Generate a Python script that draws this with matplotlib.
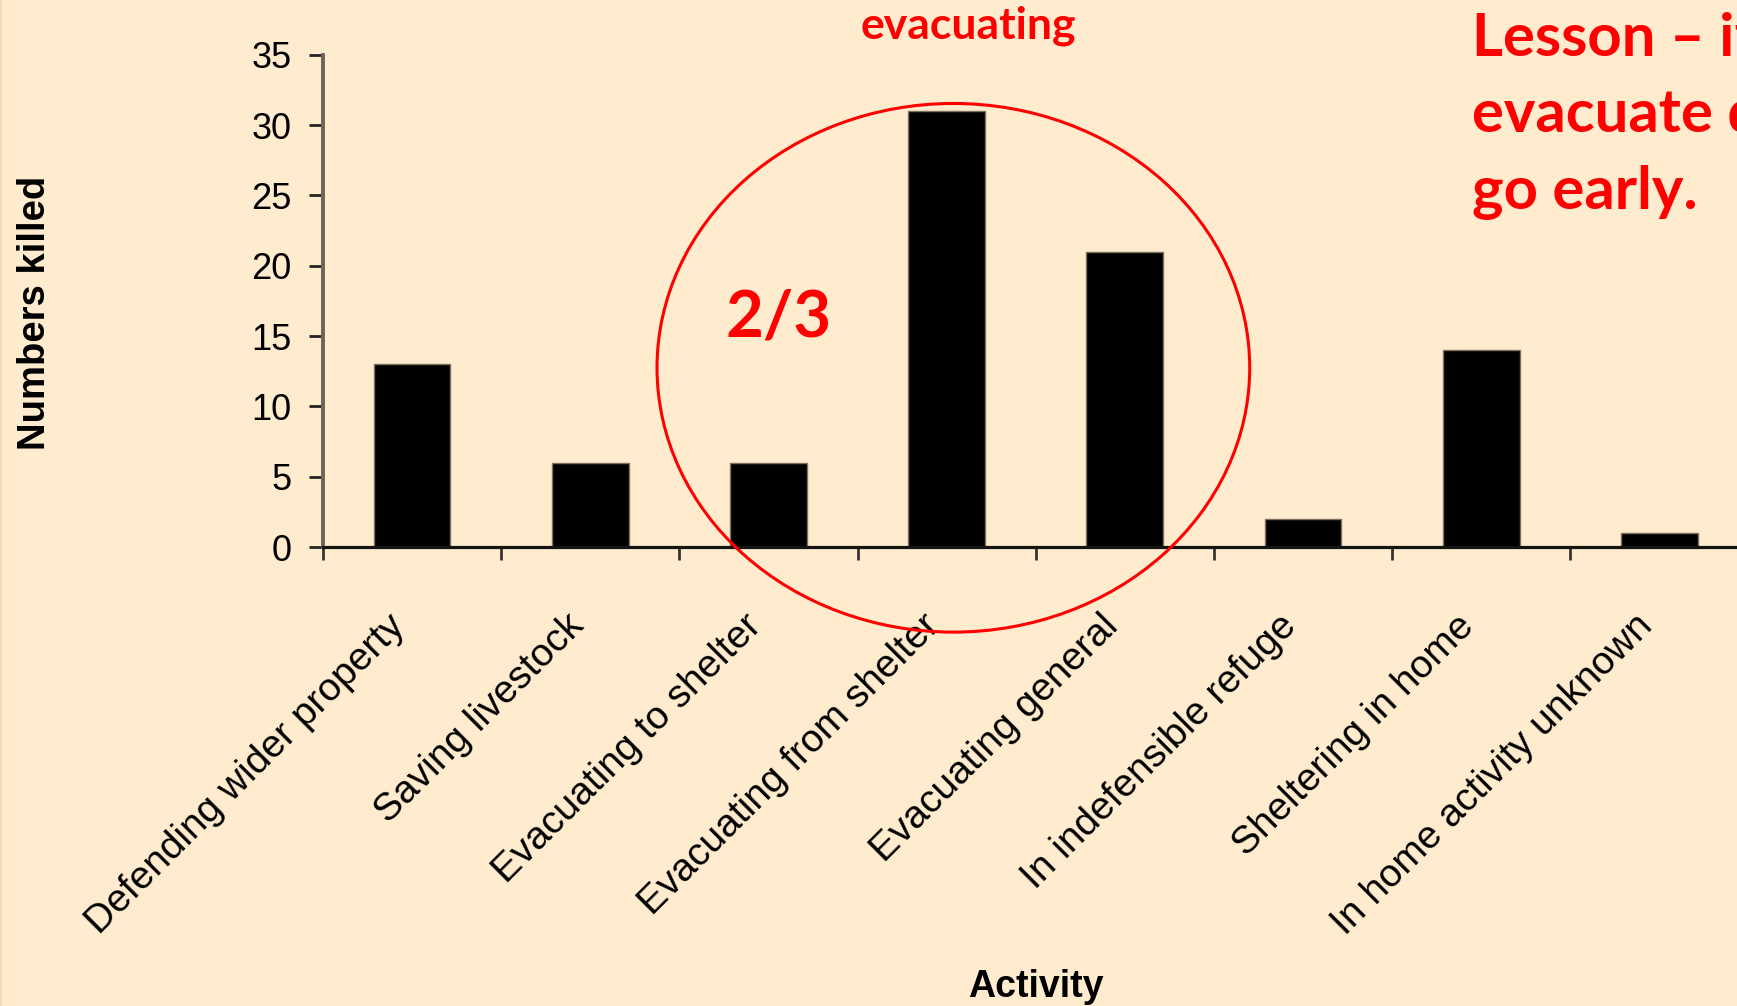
import matplotlib
matplotlib.use("Agg")
import matplotlib.pyplot as plt
from matplotlib.patches import Ellipse
from matplotlib.lines import Line2D
from matplotlib.transforms import ScaledTranslation, blended_transform_factory

activities = ["Defending wider property", "Saving livestock", "Evacuating to shelter",
              "Evacuating from shelter", "Evacuating general", "In indefensible refuge",
              "Sheltering in home", "In home activity unknown"]
killed = [13, 6, 6, 31, 21, 2, 14, 1]
yticks = [0, 5, 10, 15, 20, 25, 30, 35]
lesson_lines = ["Lesson \u2013 if you", "evacuate do", "go early."]

BG = "#ffebcd"
RED = "#ff0000"
W, H = 1737, 1006

plt.rcParams["font.family"] = ["Liberation Sans", "DejaVu Sans"]

fig = plt.figure(figsize=(W / 100, H / 100), dpi=100, facecolor=BG)
ax = fig.add_axes([322.9 / W, 1 - 547.2 / H, 1425.6 / W, 492.5 / H])
ax.set_facecolor(BG)

pos = list(range(len(killed)))
ax.bar(pos, killed, width=0.43, color="black", edgecolor="#7d705f",
       linewidth=1.0, zorder=3)
ax.set_xlim(-0.5, 7.5)
ax.set_ylim(0, 35)

# y axis
ax.set_yticks(yticks)
ax.tick_params(axis="y", length=10.4, width=2.0, color="#222222", pad=12,
               labelsize=26)

# x axis: ticks between categories, labels under the bars
ax.set_xticks([p - 0.5 for p in range(len(killed) + 1)])
ax.set_xticklabels([])
ax.tick_params(axis="x", which="major", length=9.4, width=2.0, color="#3a3530")

lbl_trans = (blended_transform_factory(ax.transData, ax.transAxes)
             + ScaledTranslation(-0.25, 0, fig.dpi_scale_trans))
for p, name in zip(pos, activities):
    ax.text(p, (547.2 - 608) / 492.5, name, rotation=45, ha="right", va="top",
            rotation_mode="anchor", fontsize=28, transform=lbl_trans,
            clip_on=False)

for s in ["top", "right"]:
    ax.spines[s].set_visible(False)
ax.spines["left"].set_color("#6f6557")
ax.spines["left"].set_linewidth(2.8)
ax.spines["bottom"].set_color("#141414")
ax.spines["bottom"].set_linewidth(2.3)
ax.spines["bottom"].set_zorder(4)

ax.set_xlabel("Activity", fontsize=27, fontweight="bold")
ax.xaxis.set_label_coords(0.5, (547.2 - 969) / 492.5)
fig.text(35.5 / W, 1 - 312.8 / H, "Numbers killed", rotation=90, ha="center",
         va="center", fontsize=27.5, fontweight="bold")

# the evacuation group
ax.add_patch(Ellipse((3.038, 12.75), 3.326, 37.57, fill=False, edgecolor=RED,
                     linewidth=2.2, clip_on=False, zorder=5))

red_font = dict(color=RED, fontweight="bold", family=["Lato", "DejaVu Sans"])
fig.text(968 / W, 1 - 38.5 / H, "evacuating", ha="center", va="baseline",
         fontsize=32, **red_font)
fig.text(779 / W, 1 - 337 / H, "2/3", ha="center", va="baseline",
         fontsize=47, **red_font)
for i, line in enumerate(lesson_lines):
    fig.text(1472 / W, 1 - (55.5 + 77 * i) / H, line, ha="left", va="baseline",
             fontsize=43, **red_font)

# thin slide border on the left
fig.add_artist(Line2D([0.6 / W, 0.6 / W], [0, 1], color="#f0dcbc", linewidth=1.5,
                      transform=fig.transFigure))

fig.savefig("out.png", dpi=100, facecolor=BG)
